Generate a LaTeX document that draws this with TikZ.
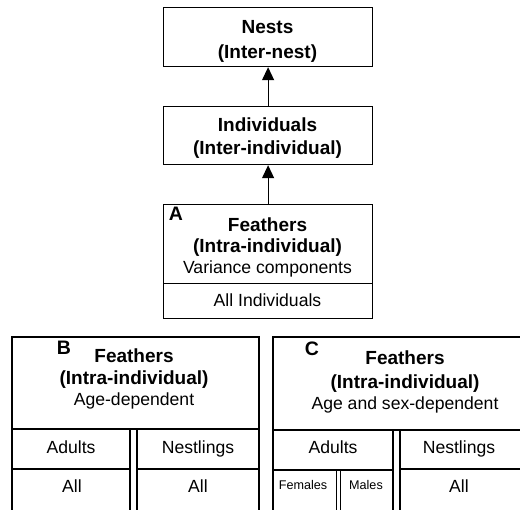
\documentclass[tikz,border=0pt]{standalone}
\usepackage{fontspec}
\setmainfont{Liberation Sans}
\usetikzlibrary{arrows.meta}
\begin{document}
\begin{tikzpicture}[x=1pt,y=-1pt,
  box/.style={draw, line width=1.2pt, inner sep=0pt, anchor=north west},
  ln/.style={line width=1.2pt},
  ttl/.style={font=\fontsize{19}{22}\selectfont\bfseries, inner sep=0pt, text height=13.6pt, text depth=0pt},
  lbl/.style={font=\fontsize{19.5}{22}\selectfont\bfseries, inner sep=0pt, text height=14pt, text depth=0pt},
  txt/.style={font=\fontsize{17.6}{20}\selectfont, inner sep=0pt, text height=12.6pt, text depth=0pt},
  sml/.style={font=\fontsize{12.6}{15}\selectfont, inner sep=0pt, text height=9pt, text depth=0pt},
  arr/.style={-{Triangle[width=12pt,length=13pt]}, line width=1.2pt}]
\useasboundingbox (0,0) rectangle (520,510);
% top chain
\node[box, minimum width=209pt, minimum height=59pt] (nests) at (163,7) {};
\node[box, minimum width=209pt, minimum height=58pt] (indiv) at (163,106) {};
\node[box, minimum width=209pt, minimum height=79pt] (featA) at (163,204) {};
\node[box, minimum width=209pt, minimum height=35pt] (allA) at (163,283) {};
\draw[arr] (indiv.north) -- (nests.south);
\draw[arr] (featA.north) -- (indiv.south);
\node[ttl] (t1) at (267.5,27) {Nests};
\node[ttl] (t2) at (267.5,52) {(Inter-nest)};
\node[ttl] (t3) at (267.5,125) {Individuals};
\node[ttl] (t4) at (267.5,148) {(Inter-individual)};
\node[lbl] (la) at (176,214) {A};
\node[ttl] (t5) at (267.5,225) {Feathers};
\node[ttl] (t6) at (267.5,246) {(Intra-individual)};
\node[txt] (t7) at (267.5,267) {Variance components};
\node[txt] (t8) at (267.5,300) {All Individuals};
% panel B
\draw[ln] (12,510) -- (12,337) -- (259,337) -- (259,510);
\draw[ln] (12,429) -- (259,429);
\draw[ln] (130,429) -- (130,510);
\draw[ln] (137,429) -- (137,510);
\draw[ln] (12,469) -- (130,469);
\draw[ln] (137,469) -- (259,469);
\node[lbl] (lb) at (64,348) {B};
\node[ttl] (b1) at (134,356) {Feathers};
\node[ttl] (b2) at (134,378) {(Intra-individual)};
\node[txt] (b3) at (134,399) {Age-dependent};
\node[txt] (b4) at (71,447) {Adults};
\node[txt] (b5) at (198,447) {Nestlings};
\node[txt] (b6) at (72,486) {All};
\node[txt] (b7) at (198,486) {All};
% panel C
\draw[ln] (273,510) -- (273,337) -- (521,337);
\draw[ln] (273,430) -- (521,430);
\draw[ln] (393,430) -- (393,510);
\draw[ln] (400,430) -- (400,510);
\draw[ln] (273,470) -- (393,470);
\draw[ln] (400,469) -- (521,469);
\draw[ln] (336.7,470) -- (336.7,510);
\draw[ln] (340.7,470) -- (340.7,510);
\node[lbl] (lc) at (312,349) {C};
\node[ttl] (c1) at (405,358) {Feathers};
\node[ttl] (c2) at (405,382) {(Intra-individual)};
\node[txt] (c3) at (405,403) {Age and sex-dependent};
\node[txt] (c4) at (333,447) {Adults};
\node[txt] (c5) at (459,447) {Nestlings};
\node[sml] (c6) at (303,485) {Females};
\node[sml] (c7) at (366,485) {Males};
\node[txt] (c8) at (459,486) {All};
\end{tikzpicture}
\end{document}
